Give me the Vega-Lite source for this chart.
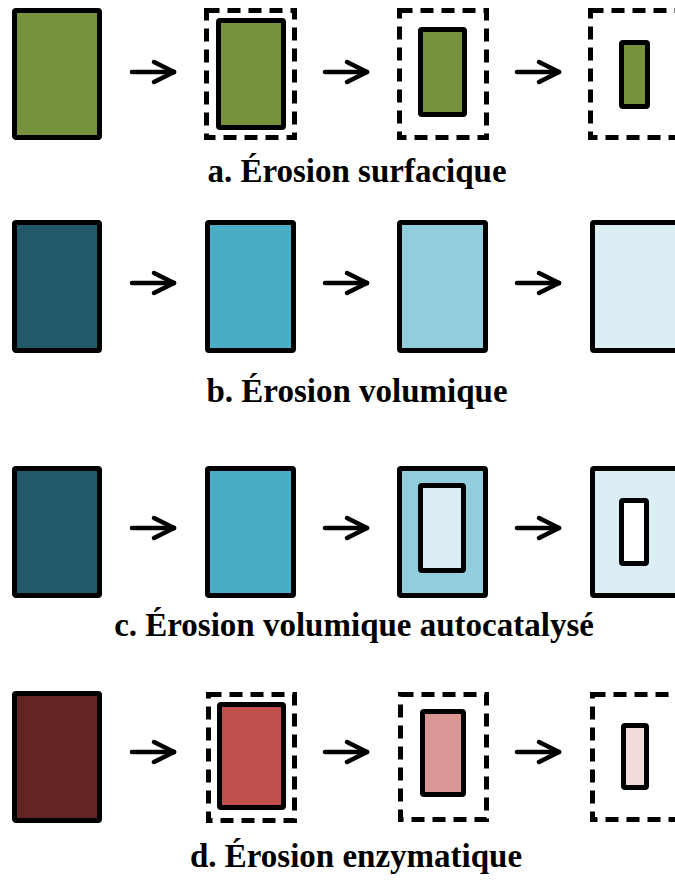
{
  "$schema": "https://vega.github.io/schema/vega-lite/v6.json",
  "width": 675,
  "height": 882,
  "autosize": {"type": "fit", "contains": "padding"},
  "padding": 0,
  "background": "white",
  "config": {"view": {"stroke": null}},
  "datasets": {
    "boxes": [
      {"row": "a", "x": 14.5, "x2": 99.5, "y": 10.5, "y2": 137.5, "fill": "#76923c", "style": "solid"},
      {"row": "a", "x": 206.5, "x2": 294.5, "y": 10.5, "y2": 137.5, "fill": "none", "style": "dashed"},
      {"row": "a", "x": 218.5, "x2": 283.5, "y": 20.5, "y2": 127.5, "fill": "#76923c", "style": "solid"},
      {"row": "a", "x": 399.5, "x2": 486.5, "y": 10.5, "y2": 137.5, "fill": "none", "style": "dashed"},
      {"row": "a", "x": 420.5, "x2": 464.5, "y": 29.5, "y2": 114.5, "fill": "#76923c", "style": "solid"},
      {"row": "a", "x": 590.5, "x2": 677.5, "y": 10.5, "y2": 137.5, "fill": "none", "style": "dashed"},
      {"row": "a", "x": 621.5, "x2": 647.5, "y": 42.5, "y2": 106.5, "fill": "#76923c", "style": "solid"},

      {"row": "b", "x": 14.5, "x2": 99.5, "y": 222.5, "y2": 350.5, "fill": "#215968", "style": "solid"},
      {"row": "b", "x": 207.5, "x2": 293.5, "y": 222.5, "y2": 350.5, "fill": "#4bacc6", "style": "solid"},
      {"row": "b", "x": 399.5, "x2": 485.5, "y": 222.5, "y2": 350.5, "fill": "#92cddc", "style": "solid"},
      {"row": "b", "x": 592.5, "x2": 678.5, "y": 222.5, "y2": 350.5, "fill": "#daeef3", "style": "solid"},

      {"row": "c", "x": 14.5, "x2": 99.5, "y": 468.5, "y2": 595.5, "fill": "#215968", "style": "solid"},
      {"row": "c", "x": 207.5, "x2": 293.5, "y": 468.5, "y2": 595.5, "fill": "#4bacc6", "style": "solid"},
      {"row": "c", "x": 399.5, "x2": 485.5, "y": 468.5, "y2": 595.5, "fill": "#92cddc", "style": "solid"},
      {"row": "c", "x": 420.5, "x2": 463.5, "y": 485.5, "y2": 570.5, "fill": "#daeef3", "style": "solid"},
      {"row": "c", "x": 592.5, "x2": 678.5, "y": 468.5, "y2": 595.5, "fill": "#daeef3", "style": "solid"},
      {"row": "c", "x": 621.5, "x2": 646.5, "y": 500.5, "y2": 563.5, "fill": "#ffffff", "style": "solid"},

      {"row": "d", "x": 14.5, "x2": 99.5, "y": 693.5, "y2": 820.5, "fill": "#632523", "style": "solid"},
      {"row": "d", "x": 208.5, "x2": 294.5, "y": 694.5, "y2": 820.5, "fill": "none", "style": "dashed"},
      {"row": "d", "x": 219.5, "x2": 283.5, "y": 704.5, "y2": 807.5, "fill": "#c0504d", "style": "solid"},
      {"row": "d", "x": 400.5, "x2": 486.5, "y": 694.5, "y2": 819.5, "fill": "none", "style": "dashed"},
      {"row": "d", "x": 422.5, "x2": 463.5, "y": 711.5, "y2": 794.5, "fill": "#d99694", "style": "solid"},
      {"row": "d", "x": 592.5, "x2": 679.5, "y": 694.5, "y2": 819.5, "fill": "none", "style": "dashed"},
      {"row": "d", "x": 623.5, "x2": 646.5, "y": 725.5, "y2": 787.5, "fill": "#f2dcdb", "style": "solid"}
    ],
    "arrows": [
      {"x": 132, "x2": 174, "y": 72, "y2": 72}, {"x": 154, "x2": 174, "y": 62, "y2": 72}, {"x": 154, "x2": 174, "y": 82, "y2": 72},
      {"x": 325, "x2": 367, "y": 72, "y2": 72}, {"x": 347, "x2": 367, "y": 62, "y2": 72}, {"x": 347, "x2": 367, "y": 82, "y2": 72},
      {"x": 517, "x2": 559, "y": 72, "y2": 72}, {"x": 539, "x2": 559, "y": 62, "y2": 72}, {"x": 539, "x2": 559, "y": 82, "y2": 72},

      {"x": 132, "x2": 174, "y": 283, "y2": 283}, {"x": 154, "x2": 174, "y": 273, "y2": 283}, {"x": 154, "x2": 174, "y": 293, "y2": 283},
      {"x": 325, "x2": 367, "y": 283, "y2": 283}, {"x": 347, "x2": 367, "y": 273, "y2": 283}, {"x": 347, "x2": 367, "y": 293, "y2": 283},
      {"x": 517, "x2": 559, "y": 283, "y2": 283}, {"x": 539, "x2": 559, "y": 273, "y2": 283}, {"x": 539, "x2": 559, "y": 293, "y2": 283},

      {"x": 132, "x2": 174, "y": 528, "y2": 528}, {"x": 154, "x2": 174, "y": 518, "y2": 528}, {"x": 154, "x2": 174, "y": 538, "y2": 528},
      {"x": 325, "x2": 367, "y": 528, "y2": 528}, {"x": 347, "x2": 367, "y": 518, "y2": 528}, {"x": 347, "x2": 367, "y": 538, "y2": 528},
      {"x": 517, "x2": 559, "y": 528, "y2": 528}, {"x": 539, "x2": 559, "y": 518, "y2": 528}, {"x": 539, "x2": 559, "y": 538, "y2": 528},

      {"x": 132, "x2": 174, "y": 752, "y2": 752}, {"x": 154, "x2": 174, "y": 742, "y2": 752}, {"x": 154, "x2": 174, "y": 762, "y2": 752},
      {"x": 325, "x2": 367, "y": 752, "y2": 752}, {"x": 347, "x2": 367, "y": 742, "y2": 752}, {"x": 347, "x2": 367, "y": 762, "y2": 752},
      {"x": 517, "x2": 559, "y": 752, "y2": 752}, {"x": 539, "x2": 559, "y": 742, "y2": 752}, {"x": 539, "x2": 559, "y": 762, "y2": 752}
    ],
    "labels": [
      {"label": "a. Érosion surfacique", "x": 357, "y": 182},
      {"label": "b. Érosion volumique", "x": 357, "y": 402},
      {"label": "c. Érosion volumique autocatalysé", "x": 354, "y": 636},
      {"label": "d. Érosion enzymatique", "x": 356, "y": 867}
    ]
  },
  "layer": [
    {
      "data": {"name": "boxes"},
      "transform": [{"filter": "datum.style === 'solid'"}],
      "mark": {"type": "rect", "stroke": "#000000", "strokeWidth": 5, "cornerRadius": 1.5, "strokeJoin": "round", "clip": true},
      "encoding": {
        "x": {"field": "x", "type": "quantitative", "scale": {"domain": [0, 675], "nice": false, "zero": false}, "axis": null},
        "x2": {"field": "x2"},
        "y": {"field": "y", "type": "quantitative", "scale": {"domain": [0, 882], "nice": false, "zero": false, "reverse": true}, "axis": null},
        "y2": {"field": "y2"},
        "fill": {"field": "fill", "type": "nominal", "scale": null, "legend": null}
      }
    },
    {
      "data": {"name": "boxes"},
      "transform": [{"filter": "datum.style === 'dashed'"}],
      "mark": {"type": "rect", "fill": null, "fillOpacity": 0, "stroke": "#000000", "strokeWidth": 5, "strokeDash": [13, 8], "clip": true},
      "encoding": {
        "x": {"field": "x", "type": "quantitative", "scale": {"domain": [0, 675], "nice": false, "zero": false}, "axis": null},
        "x2": {"field": "x2"},
        "y": {"field": "y", "type": "quantitative", "scale": {"domain": [0, 882], "nice": false, "zero": false, "reverse": true}, "axis": null},
        "y2": {"field": "y2"}
      }
    },
    {
      "data": {"name": "arrows"},
      "mark": {"type": "rule", "stroke": "#000000", "strokeWidth": 4.5, "strokeCap": "round"},
      "encoding": {
        "x": {"field": "x", "type": "quantitative", "scale": {"domain": [0, 675], "nice": false, "zero": false}, "axis": null},
        "x2": {"field": "x2"},
        "y": {"field": "y", "type": "quantitative", "scale": {"domain": [0, 882], "nice": false, "zero": false, "reverse": true}, "axis": null},
        "y2": {"field": "y2"}
      }
    },
    {
      "data": {"name": "labels"},
      "mark": {"type": "text", "font": "'Liberation Serif', 'Times New Roman', Times, serif", "fontWeight": "bold", "fontSize": 33, "align": "center", "baseline": "alphabetic", "color": "#000000"},
      "encoding": {
        "x": {"field": "x", "type": "quantitative", "scale": {"domain": [0, 675], "nice": false, "zero": false}, "axis": null},
        "y": {"field": "y", "type": "quantitative", "scale": {"domain": [0, 882], "nice": false, "zero": false, "reverse": true}, "axis": null},
        "text": {"field": "label", "type": "nominal"}
      }
    }
  ]
}
